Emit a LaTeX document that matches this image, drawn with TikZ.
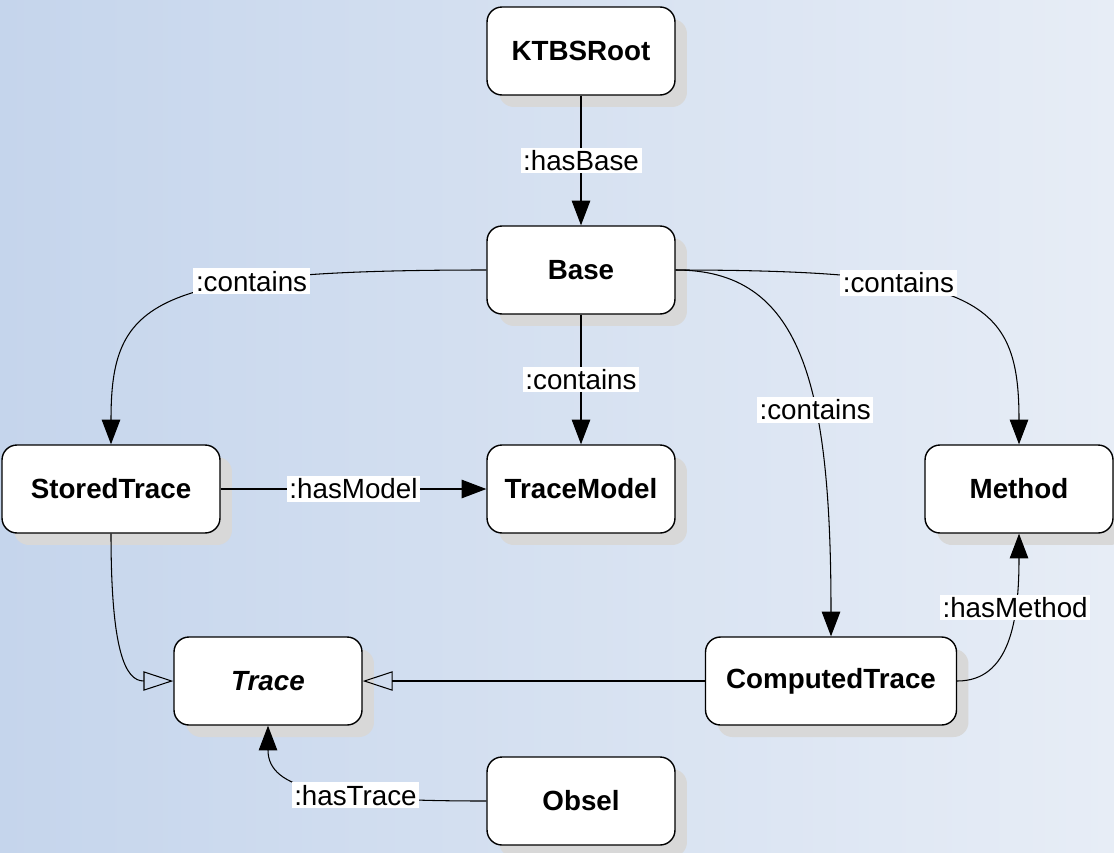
\documentclass[tikz,border=0pt]{standalone}
\usepackage{fontspec}
\setmainfont{Liberation Sans}
\usetikzlibrary{arrows.meta,shadows}
\definecolor{bgleft}{RGB}{197,213,236}
\definecolor{bgright}{RGB}{231,237,246}
\definecolor{shadowgray}{RGB}{216,216,216}
\tikzstyle{cls} = [draw, line width=0.8pt, rounded corners=8.5pt, fill=white, minimum width=3.76cm, minimum height=1.76cm, font=\fontsize{15.8}{18}\selectfont\bfseries, drop shadow={shadow xshift=0.24cm, shadow yshift=-0.24cm, fill=shadowgray, opacity=1}]

\begin{document}
\begin{tikzpicture}[x=0.02cm, y=-0.02cm,
			rel/.style={line width=0.6pt, -{Triangle[length=14pt,width=10.5pt]}},
			isa/.style={line width=0.6pt, -{Triangle[open,length=17pt,width=11pt]}},
			lbl/.style={fill=white, inner sep=1.5pt, font=\fontsize{15.8}{18}\selectfont}]
			\shade[left color=bgleft, right color=bgright] (0,0) rectangle (1114,852);
			\useasboundingbox (0,0) rectangle (1114,852);
			
			\node (root)[cls] at (581,51) {KTBSRoot};
			\node (base)[cls] at (581,270) {Base};
			\node (stored)[cls, minimum width=4.36cm] at (111,489) {StoredTrace};
			\node (model)[cls] at (581,489) {TraceModel};
			\node (method)[cls] at (1019,489) {Method};
			\node (trace)[cls] at (268,681) {\itshape Trace};
			\node (computed)[cls, minimum width=5.02cm] at (831,681) {ComputedTrace};
			\node (obsel)[cls] at (581,801) {Obsel};
			
			\draw[rel] (root) -- (base) node [midway, lbl] {:hasBase};
			\draw[rel] (base.west) .. controls (150,270) and (111,300) .. (stored.north) node [pos=0.31, lbl] {:contains};
			\draw[rel] (base) -- (model) node [midway, lbl] {:contains};
			\draw[rel] (base.east) .. controls (980,270) and (1019,300) .. (method.north) node [pos=0.33, lbl] {:contains};
			\draw[rel] (base.east) .. controls (800,270) and (831,380) .. (computed.north) node [pos=0.63, lbl] {:contains};
			\draw[rel] (stored) -- (model) node [midway, lbl] {:hasModel};
			\draw[isa] (stored.south) .. controls (111,650) and (125,681) .. (trace.west);
			\draw[isa] (computed) -- (trace);
			\draw[rel] (computed.east) .. controls (1010,681) and (1019,620) .. (method.south) node [pos=0.68, lbl] {:hasMethod};
			\draw[rel] (obsel.west) .. controls (330,801) and (268,790) .. (trace.south) node [pos=0.35, lbl] {:hasTrace};
		\end{tikzpicture}
\end{document}
